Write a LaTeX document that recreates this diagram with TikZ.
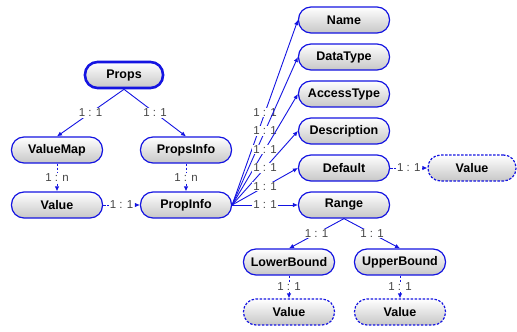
\documentclass[tikz,border=0pt]{standalone}
\usepackage{fontspec}
\setmainfont{Liberation Sans}
\usetikzlibrary{arrows.meta}

\definecolor{link color}{RGB}{20,20,225}
\definecolor{card color}{RGB}{70,70,70}

\tikzset{
    entity/.style={draw=link color, line width=1.2pt, rounded corners=12.5pt,
        top color=white, bottom color=black!22, minimum width=91pt,
        minimum height=26pt, inner sep=0pt,
        font=\fontsize{12.5}{14}\selectfont\bfseries},
    root/.style={entity, line width=2.6pt, minimum width=78pt},
    leaf/.style={entity, dash pattern=on 2.5pt off 1.5pt},
    has/.style={draw=link color, line width=0.9pt, -{Latex[length=5pt,width=4.5pt]}},
    ref/.style={has, dash pattern=on 2.5pt off 1.5pt},
    card/.style={fill=white, text=card color, inner sep=1pt,
        font=\fontsize{11.5}{13}\selectfont}
}

\begin{document}
\begin{tikzpicture}[x=1pt, y=-1pt]
    \useasboundingbox (0,0) rectangle (517,332);

    \node [root] (props) at (124,75) {Props};
    \node [entity] (valuemap) at (57,150) {ValueMap};
    \node [entity] (propsinfo) at (186,150) {PropsInfo};
    \node [entity] (value) at (57,205) {Value};
    \node [entity] (propinfo) at (186,205) {PropInfo};

    \draw [has] (props.south) -- node [card] {1 : 1} (valuemap.north);
    \draw [has] (props.south) -- node [card] {1 : 1} (propsinfo.north);
    \draw [ref] (valuemap) -- node [card] {1 : n} (value);
    \draw [ref] (propsinfo) -- node [card] {1 : n} (propinfo);
    \draw [ref] (value) -- node [card] {1 : 1} (propinfo);

    % attributes of PropInfo
    \foreach \n/\t [count=\i from 0] in {name/Name, datatype/DataType,
            accesstype/AccessType, description/Description,
            default/Default, range/Range}
    {
        \node [entity] (\n) at (344, 20+37*\i) {\t};
        \draw [has] (propinfo.east) -- node [card] {1 : 1} (\n.west);
    }

    \node [leaf, minimum width=88pt] (defval) at (472,168) {Value};
    \draw [ref] (default) -- node [card] {1 : 1} (defval);

    \node [entity] (lowerbound) at (289,262) {LowerBound};
    \node [entity] (upperbound) at (400,262) {UpperBound};
    \draw [has] (range.south) -- node [card] {1 : 1} (lowerbound.north);
    \draw [has] (range.south) -- node [card] {1 : 1} (upperbound.north);

    \node [leaf] (lowval) at (289,312) {Value};
    \node [leaf] (upval) at (400,312) {Value};
    \draw [ref] (lowerbound) -- node [card] {1 : 1} (lowval);
    \draw [ref] (upperbound) -- node [card] {1 : 1} (upval);
\end{tikzpicture}
\end{document}
